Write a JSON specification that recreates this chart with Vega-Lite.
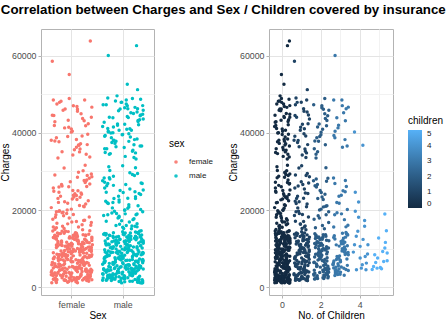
{
  "$schema": "https://vega.github.io/schema/vega-lite/v6.json",
  "padding": {"left": 0, "top": 3, "right": 0, "bottom": 3},
  "title": {"text": "Correlation between Charges and Sex / Children covered by insurance", "fontSize": 13.3, "fontWeight": "bold", "color": "#000000", "anchor": "middle", "offset": 12, "dx": 1},
  "datasets": {
    "female": [
      {"c":0,"j":-31,"y":1607},{"c":0,"j":12,"y":12270},{"c":0,"j":37,"y":4687},{"c":0,"j":-8,"y":8240},{"c":0,"j":24,"y":2200},{"c":0,"j":-19,"y":10797},{"c":0,"j":3,"y":13228},{"c":0,"j":-36,"y":3046},{"c":0,"j":29,"y":6406},{"c":0,"j":-14,"y":1880},
      {"c":0,"j":18,"y":11090},{"c":0,"j":-2,"y":9048},{"c":0,"j":33,"y":2755},{"c":0,"j":-27,"y":5246},{"c":0,"j":7,"y":14133},{"c":0,"j":-39,"y":1137},{"c":0,"j":21,"y":7281},{"c":0,"j":-11,"y":3757},{"c":0,"j":39,"y":12648},{"c":0,"j":-23,"y":4561},
      {"c":0,"j":15,"y":9724},{"c":0,"j":-5,"y":2395},{"c":0,"j":26,"y":6079},{"c":0,"j":-33,"y":13451},{"c":0,"j":9,"y":1632},{"c":0,"j":-17,"y":8765},{"c":0,"j":35,"y":10436},{"c":0,"j":1,"y":5373},{"c":0,"j":-29,"y":1967},{"c":0,"j":13,"y":11848},
      {"c":0,"j":-38,"y":3393},{"c":0,"j":22,"y":7623},{"c":0,"j":-7,"y":14410},{"c":0,"j":31,"y":2130},{"c":0,"j":-21,"y":9386},{"c":0,"j":5,"y":4950},{"c":0,"j":-34,"y":12905},{"c":0,"j":17,"y":6833},{"c":0,"j":-13,"y":1725},{"c":0,"j":28,"y":10070},
      {"c":0,"j":-1,"y":3580},{"c":0,"j":38,"y":8017},{"c":0,"j":-25,"y":13870},{"c":0,"j":10,"y":2528},{"c":0,"j":-16,"y":5740},{"c":0,"j":34,"y":11502},{"c":0,"j":-30,"y":1242},{"c":0,"j":19,"y":7057},{"c":0,"j":-9,"y":9931},{"c":0,"j":27,"y":4185},
      {"c":0,"j":-37,"y":14585},{"c":0,"j":4,"y":2001},{"c":0,"j":23,"y":6624},{"c":0,"j":-20,"y":12002},{"c":0,"j":36,"y":3218},{"c":0,"j":-12,"y":8512},{"c":0,"j":8,"y":1399},{"c":0,"j":-28,"y":10651},{"c":0,"j":14,"y":5022},{"c":0,"j":-4,"y":13095},
      {"c":0,"j":30,"y":2663},{"c":0,"j":-35,"y":7419},{"c":0,"j":20,"y":11271},{"c":0,"j":-24,"y":4352},{"c":0,"j":2,"y":9193},{"c":0,"j":32,"y":1823},{"c":0,"j":-15,"y":14002},{"c":0,"j":11,"y":6225},{"c":0,"j":-40,"y":3899},{"c":0,"j":25,"y":12441},
      {"c":0,"j":-6,"y":1515},{"c":0,"j":16,"y":8370},{"c":0,"j":-32,"y":5538},{"c":0,"j":38,"y":10288},{"c":0,"j":-18,"y":2910},{"c":0,"j":6,"y":13640},{"c":0,"j":-26,"y":7807},{"c":0,"j":29,"y":4040},{"c":0,"j":-10,"y":11680},{"c":0,"j":0,"y":1702},
      {"c":0,"j":34,"y":9580},{"c":0,"j":-22,"y":3124},{"c":0,"j":13,"y":6959},{"c":0,"j":-3,"y":12790},{"c":0,"j":24,"y":2286},{"c":0,"j":-36,"y":8963},{"c":0,"j":9,"y":5175},{"c":0,"j":-14,"y":14290},{"c":0,"j":39,"y":1960},{"c":0,"j":-30,"y":10952},
      {"c":0,"j":18,"y":4709},{"c":0,"j":-8,"y":7164},{"c":0,"j":27,"y":13312},{"c":0,"j":-19,"y":2452},{"c":0,"j":3,"y":9836},{"c":0,"j":-33,"y":3663},{"c":0,"j":21,"y":6346},{"c":0,"j":-27,"y":11387},{"c":0,"j":11,"y":1180},{"c":0,"j":-1,"y":8651},
      {"c":0,"j":-23,"y":5863},{"c":0,"j":39,"y":12120},{"c":0,"j":-11,"y":2838},{"c":0,"j":21,"y":10517},{"c":0,"j":-39,"y":4286},{"c":0,"j":7,"y":13741},{"c":0,"j":-27,"y":7500},{"c":0,"j":33,"y":1578},{"c":0,"j":-2,"y":9287},{"c":0,"j":18,"y":3460},
      {"c":0,"j":-14,"y":6715},{"c":0,"j":29,"y":11985},{"c":0,"j":-36,"y":2070},{"c":0,"j":3,"y":8129},{"c":0,"j":-19,"y":14478},{"c":0,"j":24,"y":5630},{"c":0,"j":-8,"y":1309},{"c":0,"j":37,"y":10170},{"c":0,"j":12,"y":4894},{"c":0,"j":-31,"y":12560},
      {"c":1,"j":-1,"y":2803},{"c":1,"j":38,"y":9645},{"c":1,"j":-25,"y":5990},{"c":1,"j":10,"y":12175},{"c":1,"j":-16,"y":3452},{"c":1,"j":34,"y":7741},{"c":1,"j":-30,"y":1987},{"c":1,"j":19,"y":10864},{"c":1,"j":-9,"y":4632},{"c":1,"j":27,"y":13566},
      {"c":1,"j":-37,"y":6287},{"c":1,"j":4,"y":2476},{"c":1,"j":23,"y":8873},{"c":1,"j":-20,"y":11622},{"c":1,"j":36,"y":3944},{"c":1,"j":-12,"y":1811},{"c":1,"j":8,"y":7102},{"c":1,"j":-28,"y":14066},{"c":1,"j":14,"y":5318},{"c":1,"j":-4,"y":9990},
      {"c":1,"j":30,"y":2619},{"c":1,"j":-35,"y":12815},{"c":1,"j":20,"y":4105},{"c":1,"j":-24,"y":8440},{"c":1,"j":2,"y":6622},{"c":1,"j":32,"y":10391},{"c":1,"j":-15,"y":1902},{"c":1,"j":11,"y":13148},{"c":1,"j":-40,"y":3205},{"c":1,"j":25,"y":7946},
      {"c":1,"j":-6,"y":11060},{"c":1,"j":16,"y":5771},{"c":1,"j":-32,"y":2348},{"c":1,"j":38,"y":9237},{"c":1,"j":-18,"y":4873},{"c":1,"j":6,"y":12503},{"c":1,"j":-26,"y":6950},{"c":1,"j":29,"y":1755},{"c":1,"j":-10,"y":10718},{"c":1,"j":0,"y":3687},
      {"c":1,"j":34,"y":8210},{"c":1,"j":-22,"y":13893},{"c":1,"j":13,"y":5066},{"c":1,"j":-3,"y":2160},{"c":1,"j":24,"y":11344},{"c":1,"j":-36,"y":7365},{"c":1,"j":9,"y":4420},{"c":1,"j":-14,"y":9502},{"c":1,"j":39,"y":12987},{"c":1,"j":-30,"y":3011},
      {"c":1,"j":18,"y":6489},{"c":1,"j":-8,"y":10130},{"c":1,"j":27,"y":2582},{"c":1,"j":-19,"y":8695},{"c":1,"j":3,"y":13442},{"c":1,"j":-33,"y":5512},{"c":1,"j":21,"y":1846},{"c":1,"j":-27,"y":11880},{"c":1,"j":11,"y":4018},{"c":1,"j":-1,"y":7603},
      {"c":1,"j":15,"y":9069},{"c":1,"j":-5,"y":3838},{"c":1,"j":26,"y":12332},{"c":1,"j":-33,"y":6108},{"c":1,"j":9,"y":2291},
      {"c":2,"j":28,"y":4748},{"c":2,"j":-13,"y":10612},{"c":2,"j":17,"y":2937},{"c":2,"j":-34,"y":7822},{"c":2,"j":5,"y":12451},{"c":2,"j":-21,"y":5604},{"c":2,"j":31,"y":3318},{"c":2,"j":-7,"y":9210},{"c":2,"j":22,"y":13606},{"c":2,"j":-38,"y":6382},
      {"c":2,"j":13,"y":2264},{"c":2,"j":-29,"y":8534},{"c":2,"j":1,"y":11152},{"c":2,"j":35,"y":4105},{"c":2,"j":-17,"y":7038},{"c":2,"j":9,"y":12938},{"c":2,"j":-33,"y":3640},{"c":2,"j":26,"y":9877},{"c":2,"j":-5,"y":5211},{"c":2,"j":15,"y":2584},
      {"c":2,"j":-4,"y":10903},{"c":2,"j":14,"y":6690},{"c":2,"j":-28,"y":13243},{"c":2,"j":8,"y":4437},{"c":2,"j":-12,"y":8106},{"c":2,"j":36,"y":2780},{"c":2,"j":-20,"y":11735},{"c":2,"j":23,"y":5880},{"c":2,"j":4,"y":9485},{"c":2,"j":-37,"y":3077},
      {"c":2,"j":27,"y":12166},{"c":2,"j":-9,"y":7320},{"c":2,"j":19,"y":4951},{"c":2,"j":-30,"y":10302},{"c":2,"j":34,"y":2423},{"c":2,"j":-16,"y":8862},{"c":2,"j":10,"y":13590},{"c":2,"j":-25,"y":6015},{"c":2,"j":38,"y":3890},{"c":2,"j":-1,"y":11430},
      {"c":2,"j":30,"y":7655},{"c":2,"j":-35,"y":2150},{"c":2,"j":20,"y":9662},{"c":2,"j":-24,"y":5395},{"c":2,"j":2,"y":12708},{"c":2,"j":32,"y":4220},{"c":2,"j":-15,"y":8291},{"c":2,"j":11,"y":10027},
      {"c":3,"j":-1,"y":6601},{"c":3,"j":11,"y":11985},{"c":3,"j":-27,"y":3821},{"c":3,"j":21,"y":9102},{"c":3,"j":-33,"y":13370},{"c":3,"j":3,"y":5236},{"c":3,"j":-19,"y":7944},{"c":3,"j":27,"y":4575},{"c":3,"j":-8,"y":10653},{"c":3,"j":18,"y":3094},
      {"c":3,"j":-30,"y":12470},{"c":3,"j":39,"y":8412},{"c":3,"j":-14,"y":6104},{"c":3,"j":9,"y":14005},{"c":3,"j":-36,"y":4988},{"c":3,"j":24,"y":9750},{"c":3,"j":-3,"y":3370},{"c":3,"j":13,"y":11290},{"c":3,"j":-22,"y":7213},{"c":3,"j":34,"y":5665},
      {"c":3,"j":-36,"y":12918},{"c":3,"j":29,"y":8798},{"c":3,"j":-14,"y":4110},{"c":3,"j":18,"y":10218},{"c":3,"j":-2,"y":6901},{"c":3,"j":33,"y":13702},{"c":3,"j":-27,"y":3605},{"c":3,"j":7,"y":9381},{"c":3,"j":-39,"y":5840},{"c":3,"j":21,"y":11634},
      {"c":3,"j":-11,"y":7560},{"c":3,"j":39,"y":4339},{"c":3,"j":-23,"y":10980},
      {"c":4,"j":14,"y":36770},{"c":4,"j":-25,"y":24630},{"c":4,"j":-25,"y":19690},{"c":4,"j":23,"y":17270},{"c":4,"j":-12,"y":14490},{"c":4,"j":40,"y":11020},{"c":4,"j":26,"y":7980},{"c":4,"j":32,"y":6250},{"c":4,"j":-19,"y":4520},{"c":4,"j":0,"y":10590},
      {"c":5,"j":-5,"y":12750},{"c":5,"j":30,"y":11620},{"c":5,"j":16,"y":9280},{"c":5,"j":-25,"y":8420},{"c":5,"j":-13,"y":4950},{"c":5,"j":21,"y":6690},{"c":5,"j":-31,"y":5380},{"c":5,"j":35,"y":14660},
      {"c":0,"j":0,"y":16884},{"c":0,"j":-10,"y":19107},{"c":0,"j":29,"y":27808},{"c":0,"j":-26,"y":21984},{"c":0,"j":6,"y":24227},{"c":0,"j":-18,"y":15820},{"c":0,"j":38,"y":29330},{"c":0,"j":-32,"y":18157},{"c":0,"j":16,"y":23288},{"c":0,"j":-6,"y":26018},
      {"c":0,"j":25,"y":17352},{"c":0,"j":-40,"y":20630},{"c":0,"j":11,"y":28475},{"c":0,"j":-15,"y":15230},{"c":0,"j":32,"y":22412},{"c":0,"j":2,"y":25081},{"c":0,"j":-24,"y":19798},{"c":0,"j":20,"y":16203},{"c":0,"j":-35,"y":24873},{"c":0,"j":30,"y":28950},
      {"c":0,"j":15,"y":21196},{"c":0,"j":-5,"y":17929},{"c":0,"j":26,"y":27119},{"c":0,"j":-33,"y":14988},{"c":0,"j":9,"y":23755},{"c":0,"j":-17,"y":19440},{"c":0,"j":35,"y":26744},{"c":0,"j":1,"y":22853},{"c":0,"j":-29,"y":16580},{"c":0,"j":13,"y":29805},
      {"c":1,"j":34,"y":18220},{"c":1,"j":-22,"y":23568},{"c":1,"j":13,"y":15612},{"c":1,"j":-3,"y":27347},{"c":1,"j":24,"y":20878},{"c":1,"j":-36,"y":25694},{"c":1,"j":9,"y":17050},{"c":1,"j":-14,"y":22131},{"c":1,"j":39,"y":28623},{"c":1,"j":-30,"y":19562},
      {"c":1,"j":18,"y":24418},{"c":1,"j":-8,"y":16420},{"c":1,"j":27,"y":21540},{"c":1,"j":-19,"y":26201},{"c":1,"j":3,"y":18845},{"c":1,"j":-33,"y":29105},{"c":1,"j":21,"y":14870},{"c":1,"j":-27,"y":23021},
      {"c":2,"j":-1,"y":20234},{"c":2,"j":38,"y":16758},{"c":2,"j":-25,"y":25955},{"c":2,"j":10,"y":22710},{"c":2,"j":-16,"y":18531},{"c":2,"j":34,"y":28212},{"c":2,"j":-30,"y":15405},{"c":2,"j":19,"y":24101},{"c":2,"j":-9,"y":19983},{"c":2,"j":27,"y":27480},
      {"c":2,"j":-37,"y":17610},{"c":2,"j":4,"y":23380},{"c":2,"j":23,"y":21005},{"c":2,"j":-20,"y":26633},
      {"c":3,"j":-31,"y":18805},{"c":3,"j":12,"y":24970},{"c":3,"j":37,"y":16055},{"c":3,"j":-8,"y":21780},{"c":3,"j":24,"y":27666},{"c":3,"j":-19,"y":19285},{"c":3,"j":3,"y":23845},{"c":3,"j":-36,"y":15590},{"c":3,"j":29,"y":26120},
      {"c":0,"j":28,"y":34439},{"c":0,"j":-13,"y":46200},{"c":0,"j":17,"y":37165},{"c":0,"j":-34,"y":41920},{"c":0,"j":5,"y":35595},{"c":0,"j":-21,"y":48173},{"c":0,"j":31,"y":39611},{"c":0,"j":-7,"y":43254},{"c":0,"j":22,"y":30167},{"c":0,"j":-38,"y":44585},
      {"c":0,"j":13,"y":36837},{"c":0,"j":-29,"y":47462},{"c":0,"j":1,"y":40419},{"c":0,"j":35,"y":33732},{"c":0,"j":-17,"y":45863},{"c":0,"j":9,"y":38282},{"c":0,"j":-33,"y":42890},{"c":0,"j":26,"y":31620},{"c":0,"j":-5,"y":48885},{"c":0,"j":15,"y":35068},
      {"c":0,"j":-1,"y":40974},{"c":0,"j":38,"y":44020},{"c":0,"j":-25,"y":37700},{"c":0,"j":10,"y":46819},
      {"c":1,"j":30,"y":36950},{"c":1,"j":-35,"y":44501},{"c":1,"j":20,"y":39204},{"c":1,"j":-24,"y":47896},{"c":1,"j":2,"y":34250},{"c":1,"j":32,"y":42370},{"c":1,"j":-15,"y":30875},{"c":1,"j":11,"y":45605},{"c":1,"j":-40,"y":38090},{"c":1,"j":25,"y":48510},
      {"c":1,"j":-6,"y":41440},{"c":1,"j":16,"y":35810},
      {"c":2,"j":-1,"y":40182},{"c":2,"j":11,"y":46130},{"c":2,"j":-27,"y":33475},{"c":2,"j":21,"y":43711},{"c":2,"j":-33,"y":37908},{"c":2,"j":3,"y":47005},{"c":2,"j":-19,"y":35120},{"c":2,"j":27,"y":41865},{"c":2,"j":-8,"y":39050},{"c":2,"j":18,"y":44948},
      {"c":3,"j":-30,"y":38711},{"c":3,"j":39,"y":46661},{"c":3,"j":-14,"y":41283},{"c":3,"j":9,"y":36250},{"c":3,"j":-36,"y":48520},{"c":3,"j":24,"y":43120},
      {"c":0,"j":36,"y":63770},{"c":1,"j":-38,"y":58571},{"c":0,"j":-5,"y":55135}
    ],
    "male": [
      {"c":0,"j":-23,"y":1725},{"c":0,"j":39,"y":11365},{"c":0,"j":-11,"y":4149},{"c":0,"j":21,"y":8604},{"c":0,"j":-39,"y":2396},{"c":0,"j":7,"y":13012},{"c":0,"j":-27,"y":6186},{"c":0,"j":33,"y":1136},{"c":0,"j":-2,"y":9877},{"c":0,"j":18,"y":3579},
      {"c":0,"j":-14,"y":12247},{"c":0,"j":29,"y":5080},{"c":0,"j":-36,"y":7740},{"c":0,"j":3,"y":1391},{"c":0,"j":-19,"y":10493},{"c":0,"j":24,"y":14299},{"c":0,"j":-8,"y":2721},{"c":0,"j":37,"y":6849},{"c":0,"j":12,"y":11824},{"c":0,"j":-31,"y":4427},
      {"c":0,"j":28,"y":1261},{"c":0,"j":-13,"y":8988},{"c":0,"j":17,"y":3069},{"c":0,"j":-34,"y":13528},{"c":0,"j":5,"y":5560},{"c":0,"j":-21,"y":10042},{"c":0,"j":31,"y":1987},{"c":0,"j":-7,"y":7310},{"c":0,"j":22,"y":12689},{"c":0,"j":-38,"y":4775},
      {"c":0,"j":13,"y":1548},{"c":0,"j":-29,"y":9410},{"c":0,"j":1,"y":2244},{"c":0,"j":35,"y":14640},{"c":0,"j":-17,"y":6489},{"c":0,"j":9,"y":11019},{"c":0,"j":-33,"y":3871},{"c":0,"j":26,"y":8153},{"c":0,"j":-5,"y":1705},{"c":0,"j":15,"y":13200},
      {"c":0,"j":-4,"y":5299},{"c":0,"j":14,"y":10780},{"c":0,"j":-28,"y":2561},{"c":0,"j":8,"y":7001},{"c":0,"j":-12,"y":12005},{"c":0,"j":36,"y":1121},{"c":0,"j":-20,"y":9035},{"c":0,"j":23,"y":4012},{"c":0,"j":4,"y":14030},{"c":0,"j":-37,"y":6620},
      {"c":0,"j":27,"y":1899},{"c":0,"j":-9,"y":11510},{"c":0,"j":19,"y":3330},{"c":0,"j":-30,"y":8340},{"c":0,"j":34,"y":12982},{"c":0,"j":-16,"y":2073},{"c":0,"j":10,"y":5807},{"c":0,"j":-25,"y":10257},{"c":0,"j":38,"y":1639},{"c":0,"j":-1,"y":7511},
      {"c":0,"j":0,"y":13740},{"c":0,"j":-10,"y":4211},{"c":0,"j":29,"y":9603},{"c":0,"j":-26,"y":2486},{"c":0,"j":6,"y":11248},{"c":0,"j":-18,"y":6079},{"c":0,"j":38,"y":1174},{"c":0,"j":-32,"y":8790},{"c":0,"j":16,"y":3790},{"c":0,"j":-6,"y":12420},
      {"c":0,"j":25,"y":5462},{"c":0,"j":-40,"y":1831},{"c":0,"j":11,"y":10637},{"c":0,"j":-15,"y":7152},{"c":0,"j":32,"y":14485},{"c":0,"j":2,"y":2952},{"c":0,"j":-24,"y":9164},{"c":0,"j":20,"y":4661},{"c":0,"j":-35,"y":11990},{"c":0,"j":30,"y":1340},
      {"c":0,"j":-1,"y":6325},{"c":0,"j":11,"y":13405},{"c":0,"j":-27,"y":3187},{"c":0,"j":21,"y":8517},{"c":0,"j":-33,"y":10929},{"c":0,"j":3,"y":2137},{"c":0,"j":-19,"y":5944},{"c":0,"j":27,"y":12784},{"c":0,"j":-8,"y":1486},{"c":0,"j":18,"y":7874},
      {"c":0,"j":-30,"y":4548},{"c":0,"j":39,"y":11682},{"c":0,"j":-14,"y":2630},{"c":0,"j":9,"y":9282},{"c":0,"j":-36,"y":13950},{"c":0,"j":24,"y":6752},{"c":0,"j":-3,"y":1131},{"c":0,"j":13,"y":3665},{"c":0,"j":-22,"y":10345},{"c":0,"j":34,"y":5128},
      {"c":0,"j":-31,"y":8002},{"c":0,"j":12,"y":12566},{"c":0,"j":37,"y":1948},{"c":0,"j":-8,"y":7623},{"c":0,"j":24,"y":4892},{"c":0,"j":-19,"y":14120},{"c":0,"j":3,"y":2800},{"c":0,"j":-36,"y":9711},{"c":0,"j":29,"y":6420},{"c":0,"j":-14,"y":11140},
      {"c":0,"j":18,"y":1577},{"c":0,"j":-2,"y":3452},{"c":0,"j":33,"y":13255},{"c":0,"j":-27,"y":8210},{"c":0,"j":7,"y":5700},
      {"c":1,"j":15,"y":3279},{"c":1,"j":-5,"y":10590},{"c":1,"j":26,"y":6733},{"c":1,"j":-33,"y":1828},{"c":1,"j":9,"y":12866},{"c":1,"j":-17,"y":4836},{"c":1,"j":35,"y":8420},{"c":1,"j":1,"y":2531},{"c":1,"j":-29,"y":11209},{"c":1,"j":13,"y":7017},
      {"c":1,"j":-38,"y":13715},{"c":1,"j":22,"y":3906},{"c":1,"j":-7,"y":9248},{"c":1,"j":31,"y":5627},{"c":1,"j":-21,"y":2093},{"c":1,"j":5,"y":12052},{"c":1,"j":-34,"y":7894},{"c":1,"j":17,"y":4471},{"c":1,"j":-13,"y":10905},{"c":1,"j":28,"y":1760},
      {"c":1,"j":-1,"y":14381},{"c":1,"j":38,"y":6318},{"c":1,"j":-25,"y":3120},{"c":1,"j":10,"y":9846},{"c":1,"j":-16,"y":5043},{"c":1,"j":34,"y":11783},{"c":1,"j":-30,"y":2697},{"c":1,"j":19,"y":8128},{"c":1,"j":-9,"y":13164},{"c":1,"j":27,"y":4205},
      {"c":1,"j":-37,"y":7466},{"c":1,"j":4,"y":10214},{"c":1,"j":23,"y":1987},{"c":1,"j":-20,"y":6040},{"c":1,"j":36,"y":12523},{"c":1,"j":-12,"y":3654},{"c":1,"j":8,"y":9021},{"c":1,"j":-28,"y":5390},{"c":1,"j":14,"y":14050},{"c":1,"j":-4,"y":2320},
      {"c":1,"j":30,"y":11460},{"c":1,"j":-35,"y":7750},{"c":1,"j":20,"y":4030},{"c":1,"j":-24,"y":8905},{"c":1,"j":2,"y":13608},{"c":1,"j":32,"y":2860},{"c":1,"j":-15,"y":6510},{"c":1,"j":11,"y":10066},{"c":1,"j":-40,"y":3488},{"c":1,"j":25,"y":12290},
      {"c":1,"j":-6,"y":5200},{"c":1,"j":16,"y":9530},{"c":1,"j":-32,"y":1905},{"c":1,"j":38,"y":7220},{"c":1,"j":-18,"y":11960},{"c":1,"j":6,"y":4655},{"c":1,"j":-26,"y":13380},{"c":1,"j":29,"y":2459},{"c":1,"j":-10,"y":8651},{"c":1,"j":0,"y":6105},
      {"c":1,"j":34,"y":10780},{"c":1,"j":-22,"y":3030},
      {"c":2,"j":34,"y":5430},{"c":2,"j":-22,"y":11806},{"c":2,"j":13,"y":3138},{"c":2,"j":-3,"y":8792},{"c":2,"j":24,"y":13216},{"c":2,"j":-36,"y":6471},{"c":2,"j":9,"y":2465},{"c":2,"j":-14,"y":9940},{"c":2,"j":39,"y":4710},{"c":2,"j":-30,"y":12604},
      {"c":2,"j":18,"y":7180},{"c":2,"j":-8,"y":3820},{"c":2,"j":27,"y":10475},{"c":2,"j":-19,"y":2280},{"c":2,"j":3,"y":8315},{"c":2,"j":-33,"y":13890},{"c":2,"j":21,"y":5890},{"c":2,"j":-27,"y":11100},{"c":2,"j":11,"y":4005},{"c":2,"j":-1,"y":7745},
      {"c":2,"j":-23,"y":2655},{"c":2,"j":39,"y":12040},{"c":2,"j":-11,"y":9420},{"c":2,"j":21,"y":6120},{"c":2,"j":-39,"y":3390},{"c":2,"j":7,"y":10860},{"c":2,"j":-27,"y":13470},{"c":2,"j":33,"y":5060},{"c":2,"j":-2,"y":8170},{"c":2,"j":18,"y":2950},
      {"c":2,"j":-14,"y":11520},{"c":2,"j":29,"y":6800},{"c":2,"j":-36,"y":4375},{"c":2,"j":3,"y":9700},{"c":2,"j":-19,"y":12890},{"c":2,"j":24,"y":3633},{"c":2,"j":-8,"y":7470},{"c":2,"j":37,"y":10155},{"c":2,"j":12,"y":5640},{"c":2,"j":-31,"y":2175},
      {"c":2,"j":28,"y":8640},{"c":2,"j":-13,"y":13040},{"c":2,"j":17,"y":4520},{"c":2,"j":-34,"y":11315},{"c":2,"j":5,"y":6955},{"c":2,"j":-21,"y":3000},{"c":2,"j":31,"y":9125},{"c":2,"j":-7,"y":12350},
      {"c":3,"j":-4,"y":7082},{"c":3,"j":14,"y":12690},{"c":3,"j":-28,"y":4260},{"c":3,"j":8,"y":9995},{"c":3,"j":-12,"y":5570},{"c":3,"j":36,"y":13520},{"c":3,"j":-20,"y":3470},{"c":3,"j":23,"y":8450},{"c":3,"j":4,"y":11270},{"c":3,"j":-37,"y":6330},
      {"c":3,"j":27,"y":14210},{"c":3,"j":-9,"y":4710},{"c":3,"j":19,"y":9120},{"c":3,"j":-30,"y":3050},{"c":3,"j":34,"y":10760},{"c":3,"j":-16,"y":7650},{"c":3,"j":10,"y":12105},{"c":3,"j":-25,"y":5160},{"c":3,"j":38,"y":8990},{"c":3,"j":-1,"y":3920},
      {"c":3,"j":30,"y":13890},{"c":3,"j":-35,"y":6810},{"c":3,"j":20,"y":10410},{"c":3,"j":-24,"y":4475},{"c":3,"j":2,"y":11850},{"c":3,"j":32,"y":7320},{"c":3,"j":-15,"y":3300},{"c":3,"j":11,"y":9560},{"c":3,"j":-40,"y":5960},{"c":3,"j":25,"y":12980},
      {"c":3,"j":-6,"y":8105},{"c":3,"j":16,"y":4930},
      {"c":4,"j":-29,"y":40230},{"c":4,"j":-8,"y":22100},{"c":4,"j":-8,"y":18130},{"c":4,"j":23,"y":15790},{"c":4,"j":-20,"y":13190},{"c":4,"j":-29,"y":11030},{"c":4,"j":0,"y":7550},{"c":4,"j":6,"y":4950},{"c":4,"j":30,"y":4520},{"c":4,"j":15,"y":12400},
      {"c":4,"j":-35,"y":9100},{"c":4,"j":11,"y":5800},{"c":4,"j":38,"y":8600},
      {"c":5,"j":27,"y":18990},{"c":5,"j":27,"y":10150},{"c":5,"j":39,"y":8850},{"c":5,"j":4,"y":5120},{"c":5,"j":-20,"y":6400},{"c":5,"j":39,"y":6860},{"c":5,"j":10,"y":4800},{"c":5,"j":-38,"y":4600},{"c":5,"j":-10,"y":7600},
      {"c":0,"j":-1,"y":15518},{"c":0,"j":11,"y":21348},{"c":0,"j":-27,"y":28340},{"c":0,"j":21,"y":17748},{"c":0,"j":-33,"y":24603},{"c":0,"j":3,"y":19933},{"c":0,"j":-19,"y":26392},{"c":0,"j":27,"y":16450},{"c":0,"j":-8,"y":22636},{"c":0,"j":18,"y":29186},
      {"c":0,"j":-30,"y":18767},{"c":0,"j":39,"y":25200},{"c":0,"j":-14,"y":15980},{"c":0,"j":9,"y":20470},{"c":0,"j":-36,"y":27205},{"c":0,"j":24,"y":23460},{"c":0,"j":-3,"y":17200},{"c":0,"j":13,"y":29640},{"c":0,"j":-22,"y":19250},{"c":0,"j":34,"y":24050},
      {"c":0,"j":-31,"y":21910},{"c":0,"j":12,"y":16880},{"c":0,"j":37,"y":26890},{"c":0,"j":-8,"y":18390},{"c":0,"j":24,"y":22970},{"c":0,"j":-19,"y":28770},{"c":0,"j":3,"y":20020},{"c":0,"j":-36,"y":25720},
      {"c":1,"j":-33,"y":17081},{"c":1,"j":9,"y":23045},{"c":1,"j":-17,"y":19710},{"c":1,"j":35,"y":27005},{"c":1,"j":1,"y":15240},{"c":1,"j":-29,"y":21690},{"c":1,"j":13,"y":25430},{"c":1,"j":-38,"y":18610},{"c":1,"j":22,"y":28945},{"c":1,"j":-7,"y":16320},
      {"c":1,"j":31,"y":24290},{"c":1,"j":-21,"y":20560},{"c":1,"j":5,"y":26610},{"c":1,"j":-34,"y":22280},{"c":1,"j":17,"y":15870},{"c":1,"j":-13,"y":19080},{"c":1,"j":28,"y":29440},
      {"c":2,"j":0,"y":24520},{"c":2,"j":-10,"y":17960},{"c":2,"j":29,"y":21130},{"c":2,"j":-26,"y":28040},{"c":2,"j":6,"y":16010},{"c":2,"j":-18,"y":22990},{"c":2,"j":38,"y":19560},{"c":2,"j":-32,"y":26280},{"c":2,"j":16,"y":15150},{"c":2,"j":-6,"y":25045},
      {"c":2,"j":25,"y":18800},{"c":2,"j":-40,"y":27590},{"c":2,"j":11,"y":20820},
      {"c":3,"j":34,"y":20145},{"c":3,"j":-30,"y":26875},{"c":3,"j":19,"y":17515},{"c":3,"j":-9,"y":23600},{"c":3,"j":27,"y":15640},{"c":3,"j":-37,"y":28290},{"c":3,"j":4,"y":19010},{"c":3,"j":23,"y":24760},{"c":3,"j":-20,"y":21950},
      {"c":0,"j":-1,"y":39597},{"c":0,"j":38,"y":47055},{"c":0,"j":-25,"y":34617},{"c":0,"j":10,"y":43943},{"c":0,"j":-16,"y":37270},{"c":0,"j":34,"y":48675},{"c":0,"j":-30,"y":41097},{"c":0,"j":19,"y":35491},{"c":0,"j":-9,"y":45710},{"c":0,"j":27,"y":38415},
      {"c":0,"j":-37,"y":42760},{"c":0,"j":4,"y":33900},{"c":0,"j":23,"y":46599},{"c":0,"j":-20,"y":40003},{"c":0,"j":36,"y":36580},{"c":0,"j":-12,"y":49577},{"c":0,"j":8,"y":44260},{"c":0,"j":-28,"y":31200},{"c":0,"j":14,"y":38940},{"c":0,"j":-4,"y":47896},
      {"c":0,"j":30,"y":42112},{"c":0,"j":-35,"y":34929},{"c":0,"j":20,"y":45008},{"c":0,"j":-24,"y":39980},{"c":0,"j":2,"y":36210},{"c":0,"j":32,"y":43400},{"c":0,"j":-15,"y":48240},{"c":0,"j":11,"y":37790},{"c":0,"j":-40,"y":41650},{"c":0,"j":25,"y":33250},
      {"c":0,"j":-6,"y":46190},{"c":0,"j":16,"y":40660},{"c":0,"j":-32,"y":35880},{"c":0,"j":38,"y":44810},{"c":0,"j":-18,"y":38090},{"c":0,"j":6,"y":47480},{"c":0,"j":-26,"y":30260},{"c":0,"j":29,"y":42940},
      {"c":1,"j":34,"y":44641},{"c":1,"j":-22,"y":37484},{"c":1,"j":13,"y":41034},{"c":1,"j":-3,"y":47928},{"c":1,"j":24,"y":34806},{"c":1,"j":-36,"y":39125},{"c":1,"j":9,"y":46255},{"c":1,"j":-14,"y":36420},{"c":1,"j":39,"y":43580},{"c":1,"j":-30,"y":49010},
      {"c":1,"j":18,"y":35210},{"c":1,"j":-8,"y":40675},{"c":1,"j":27,"y":45390},{"c":1,"j":-19,"y":38020},{"c":1,"j":3,"y":42200},{"c":1,"j":-33,"y":47300},{"c":1,"j":21,"y":33620},{"c":1,"j":-27,"y":44050},{"c":1,"j":11,"y":39760},{"c":1,"j":-1,"y":31450},
      {"c":2,"j":-23,"y":38746},{"c":2,"j":39,"y":45863},{"c":2,"j":-11,"y":42303},{"c":2,"j":21,"y":36898},{"c":2,"j":-39,"y":47269},{"c":2,"j":7,"y":40941},{"c":2,"j":-27,"y":34473},{"c":2,"j":33,"y":44423},{"c":2,"j":-2,"y":39499},{"c":2,"j":18,"y":48885},
      {"c":2,"j":-14,"y":37830},{"c":2,"j":29,"y":43210},{"c":2,"j":-36,"y":35900},{"c":2,"j":3,"y":46520},{"c":2,"j":-19,"y":41530},{"c":2,"j":24,"y":30940},
      {"c":3,"j":28,"y":46255},{"c":3,"j":-29,"y":40419},{"c":3,"j":6,"y":48517},{"c":3,"j":22,"y":38245},{"c":3,"j":-20,"y":43921},{"c":3,"j":33,"y":36580},{"c":3,"j":8,"y":47050},{"c":3,"j":-11,"y":41950},{"c":3,"j":15,"y":45190},{"c":3,"j":-35,"y":39330},
      {"c":0,"j":26,"y":62593},{"c":3,"j":-29,"y":60021},{"c":0,"j":8,"y":52591},{"c":1,"j":28,"y":51195}
    ]
  },
  "hconcat": [
    {
      "width": 113,
      "height": 266,
      "encoding": {
        "y": {
          "field": "y", "type": "quantitative", "title": "Charges",
          "scale": {"domain": [-2010, 66902], "nice": false, "zero": false},
          "axis": {
            "values": [0, 10000, 20000, 30000, 40000, 50000, 60000],
            "format": "d",
            "labelExpr": "datum.value % 20000 == 0 ? datum.label : ''",
            "tickOpacity": {"condition": {"test": "datum.value % 20000 != 0", "value": 0}, "value": 1},
            "gridColor": {"condition": {"test": "datum.value % 20000 != 0", "value": "#F2F2F2"}, "value": "#E4E4E4"},
            "titlePadding": 1
          }
        },
        "xOffset": {"field": "j", "type": "quantitative", "scale": {"domain": [-50, 50]}}
      },
      "layer": [
        {
          "data": {"name": "female"},
          "mark": {"type": "circle"},
          "encoding": {
            "x": {
              "datum": "female", "type": "nominal", "title": "Sex",
              "scale": {"domain": ["female", "male"], "paddingOuter": 0.1, "paddingInner": 0},
              "axis": {"title": "Sex", "grid": true, "bandPosition": 0.5, "labelAngle": 0, "gridColor": "#E4E4E4", "titlePadding": 2}
            },
            "color": {
              "datum": "female", "type": "nominal", "title": "sex",
              "scale": {"domain": ["female", "male"], "range": ["#F8766D", "#00BFC4"]},
              "legend": {"orient": "none", "legendX": 128, "legendY": 110, "symbolType": "circle", "symbolSize": 13, "symbolOffset": 3, "labelOffset": 9, "titlePadding": 9, "rowPadding": 6, "symbolOpacity": 0.9}
            }
          }
        },
        {
          "data": {"name": "male"},
          "mark": {"type": "circle"},
          "encoding": {
            "x": {"datum": "male", "type": "nominal", "title": "Sex"},
            "color": {"datum": "male", "type": "nominal", "title": "sex"}
          }
        }
      ]
    },
    {
      "width": 124,
      "height": 266,
      "encoding": {
        "x": {
          "field": "c", "type": "ordinal", "title": "No. of Children",
          "scale": {"domain": [0, 1, 2, 3, 4, 5], "paddingOuter": 0.19, "paddingInner": 0},
          "axis": {
            "values": [0, 1, 2, 3, 4, 5],
            "grid": true, "bandPosition": 0.5, "labelAngle": 0,
            "labelExpr": "datum.value % 2 == 0 ? datum.label : ''",
            "tickOpacity": {"condition": {"test": "datum.value % 2 == 1", "value": 0}, "value": 1},
            "gridColor": {"condition": {"test": "datum.value % 2 == 1", "value": "#F2F2F2"}, "value": "#E4E4E4"},
            "titlePadding": 2
          }
        },
        "xOffset": {"field": "j", "type": "quantitative", "scale": {"domain": [-50, 50]}},
        "y": {
          "field": "y", "type": "quantitative", "title": "Charges",
          "scale": {"domain": [-2010, 66902], "nice": false, "zero": false},
          "axis": {
            "values": [0, 10000, 20000, 30000, 40000, 50000, 60000],
            "format": "d",
            "labelExpr": "datum.value % 20000 == 0 ? datum.label : ''",
            "tickOpacity": {"condition": {"test": "datum.value % 20000 != 0", "value": 0}, "value": 1},
            "gridColor": {"condition": {"test": "datum.value % 20000 != 0", "value": "#F2F2F2"}, "value": "#E4E4E4"},
            "titlePadding": 1
          }
        },
        "color": {
          "field": "c", "type": "quantitative", "title": "children",
          "scale": {"domain": [0, 5], "range": ["#132B43", "#56B1F7"], "interpolate": "lab"},
          "legend": {"orient": "none", "legendX": 139, "legendY": 87, "direction": "vertical", "gradientLength": 78, "gradientThickness": 14, "values": [0, 1, 2, 3, 4, 5], "labelFlush": false, "labelOverlap": false, "gradientStrokeWidth": 0, "labelOffset": 5, "titlePadding": 4}
        }
      },
      "layer": [
        {"data": {"name": "female"}, "mark": {"type": "circle"}},
        {"data": {"name": "male"}, "mark": {"type": "circle"}}
      ]
    }
  ],
  "spacing": 13,
  "resolve": {
    "scale": {"color": "independent", "x": "independent", "xOffset": "independent", "y": "independent"},
    "legend": {"color": "independent"}
  },
  "config": {
    "font": "Liberation Sans",
    "view": {"stroke": "#B3B3B3", "strokeWidth": 1},
    "circle": {"size": 12, "opacity": 1},
    "axis": {
      "domain": false, "tickColor": "#B3B3B3", "tickSize": 3,
      "labelColor": "#4D4D4D", "labelFontSize": 8.8, "labelPadding": 2, "labelOverlap": false,
      "titleColor": "#000000", "titleFontSize": 10, "titleFontWeight": "normal",
      "gridColor": "#E4E4E4"
    },
    "legend": {"titleFontSize": 10, "titleFontWeight": "normal", "titleColor": "#000000", "labelFontSize": 8, "labelColor": "#1A1A1A", "padding": 0}
  }
}
